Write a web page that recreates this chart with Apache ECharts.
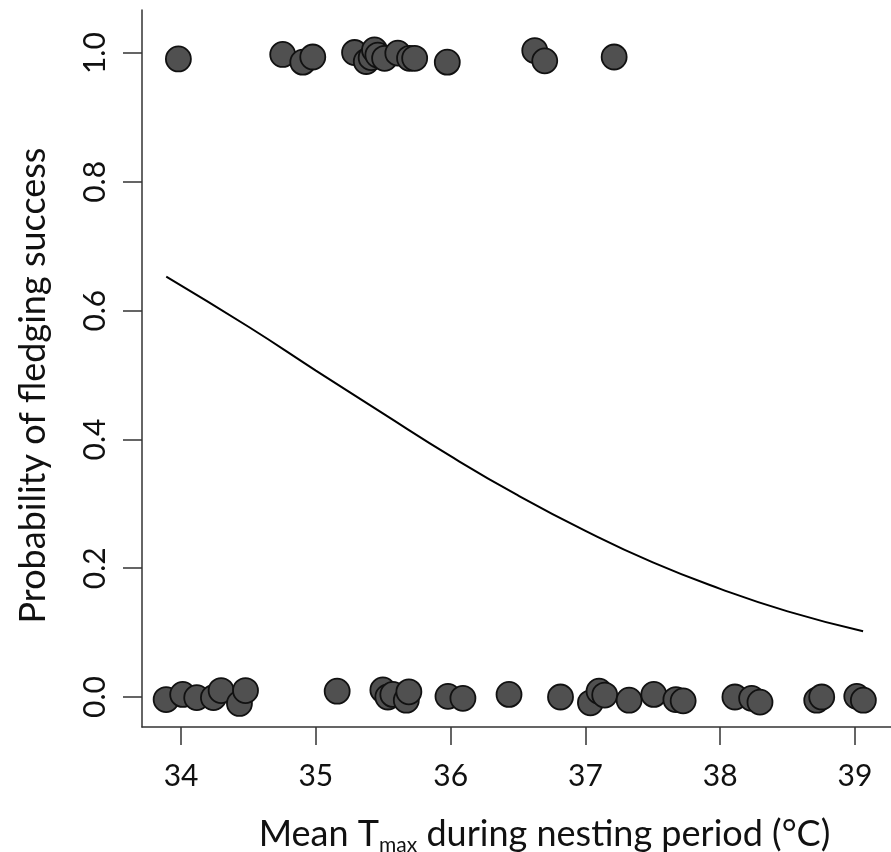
<!DOCTYPE html>
<html>
<head>
<meta charset="utf-8">
<script src="https://cdn.jsdelivr.net/npm/echarts@6/dist/echarts.min.js"></script>
<style>
  html, body { margin: 0; padding: 0; background: #fff; }
  #chart { width: 891px; height: 852px; }
</style>
</head>
<body>
<div id="chart"></div>
<script>
// fledged nests (y jittered around 1)
const successX = [33.98, 34.754, 34.903, 34.977, 35.287, 35.374, 35.41, 35.435, 35.46, 35.51, 35.608, 35.695, 35.733, 35.975, 36.624, 36.698, 37.213];
const successY = [0.991, 0.998, 0.986, 0.994, 1.001, 0.987, 0.993, 1.005, 0.997, 0.992, 1.000, 0.992, 0.992, 0.986, 1.004, 0.988, 0.994];

// failed nests (y jittered around 0)
const failX = [33.889, 34.012, 34.116, 34.24, 34.297, 34.433, 34.478, 35.158, 35.497, 35.534, 35.571, 35.671, 35.69, 35.98, 36.091, 36.433,
  36.815, 37.037, 37.101, 37.143, 37.324, 37.507, 37.671, 37.725, 38.109, 38.233, 38.295, 38.716, 38.753, 39.013, 39.062];
const failY = [-0.004, 0.004, -0.001, -0.001, 0.010, -0.010, 0.010, 0.009, 0.011, 0.000, 0.004, -0.005, 0.008, 0.001, -0.002, 0.004,
  0.000, -0.009, 0.009, 0.003, -0.005, 0.004, -0.004, -0.006, 0.000, -0.002, -0.008, -0.005, 0.000, 0.001, -0.005];

// fitted probability curve
const curveX = [33.89, 34.5, 35, 35.5, 36, 36.5, 37, 37.5, 38, 38.5, 39.06];
const curveY = [0.653, 0.575, 0.507, 0.440, 0.374, 0.313, 0.258, 0.209, 0.168, 0.133, 0.102];

const xTicks = [34, 35, 36, 37, 38, 39];
const yTicks = [0, 0.2, 0.4, 0.6, 0.8, 1.0];

const zip = (a, b) => a.map((v, i) => [v, b[i]]);

const font = 'Lato, "Open Sans", sans-serif';
const axisColor = '#333';

const chart = echarts.init(document.getElementById('chart'));
chart.setOption({
  animation: false,
  backgroundColor: '#fff',
  grid: { left: 142, top: 10, right: 0, bottom: 125, containLabel: false, outerBoundsMode: 'none' },
  xAxis: {
    type: 'value',
    min: 33.71,
    max: 39.267,
    splitLine: { show: false },
    axisLine: { show: true, onZero: false, lineStyle: { color: axisColor, width: 1.5 } },
    axisTick: { show: true, length: 18, customValues: xTicks, lineStyle: { color: axisColor, width: 1.5 } },
    axisLabel: {
      customValues: xTicks, margin: 34, fontSize: 30, color: '#111', fontFamily: font,
      formatter: v => String(v)
    },
    name: 'Mean T{sub|max} during nesting period (°C)',
    nameLocation: 'middle',
    nameGap: 86,
    nameTextStyle: {
      fontSize: 36, color: '#111', fontFamily: font, padding: [0, 0, 0, 56],
      rich: { sub: { fontSize: 21, color: '#111', fontFamily: font, padding: [22, 0, 0, 0] } }
    }
  },
  yAxis: {
    type: 'value',
    min: -0.0466,
    max: 1.067,
    splitLine: { show: false },
    axisLine: { show: true, onZero: false, lineStyle: { color: axisColor, width: 1.5 } },
    axisTick: { show: true, length: 19, customValues: yTicks, lineStyle: { color: axisColor, width: 1.5 } },
    axisLabel: {
      customValues: yTicks, rotate: 90, margin: 32, fontSize: 30, color: '#111', fontFamily: font,
      formatter: v => v.toFixed(1)
    },
    name: 'Probability of fledging success',
    nameLocation: 'middle',
    nameGap: 91,
    nameTextStyle: { fontSize: 36, color: '#111', fontFamily: font, padding: [0, 34, 0, 0] }
  },
  series: [
    {
      type: 'line',
      data: zip(curveX, curveY),
      smooth: true,
      showSymbol: false,
      lineStyle: { color: '#000', width: 2 },
      z: 1
    },
    {
      type: 'scatter',
      data: zip(successX, successY),
      symbolSize: 25,
      itemStyle: { color: '#505050', borderColor: '#111', borderWidth: 1.8, opacity: 1 },
      z: 2
    },
    {
      type: 'scatter',
      data: zip(failX, failY),
      symbolSize: 25,
      itemStyle: { color: '#505050', borderColor: '#111', borderWidth: 1.8, opacity: 1 },
      z: 2
    }
  ]
});
</script>
</body>
</html>
